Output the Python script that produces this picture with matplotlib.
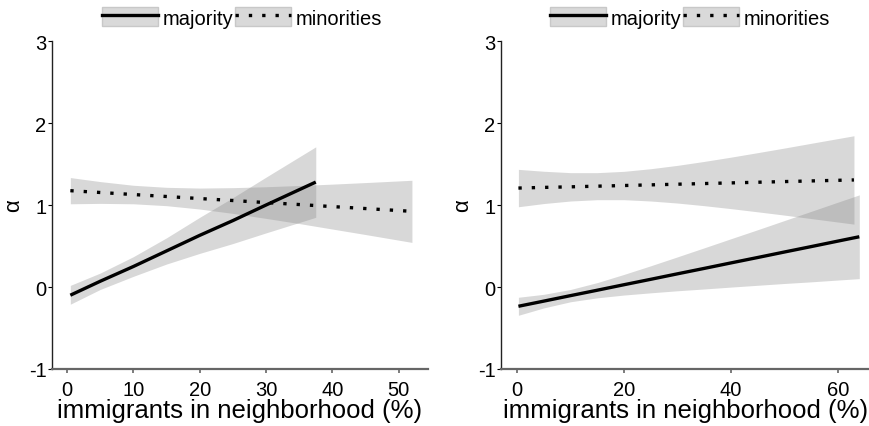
import matplotlib
matplotlib.use('Agg')
import matplotlib.pyplot as plt
from matplotlib.patches import Patch
from matplotlib.lines import Line2D
from matplotlib.legend_handler import HandlerTuple

plt.rcParams['font.family'] = ['Liberation Sans', 'DejaVu Sans']

# left panel
maj1_x = [0.5, 5, 10, 15, 20, 25, 30, 37.5]
maj1_mid = [-0.10, 0.07, 0.25, 0.44, 0.63, 0.81, 1.00, 1.28]
maj1_lo = [-0.21, -0.03, 0.13, 0.28, 0.41, 0.53, 0.66, 0.85]
maj1_hi = [0.02, 0.17, 0.37, 0.60, 0.85, 1.09, 1.34, 1.71]

min1_x = [0.5, 5, 10, 15, 20, 25, 30, 35, 40, 45, 52]
min1_mid = [1.175, 1.153, 1.128, 1.104, 1.079, 1.055, 1.030, 1.006, 0.981, 0.957, 0.923]
min1_lo = [1.015, 1.020, 1.015, 0.992, 0.951, 0.898, 0.837, 0.774, 0.707, 0.640, 0.544]
min1_hi = [1.335, 1.286, 1.241, 1.216, 1.207, 1.212, 1.223, 1.238, 1.255, 1.274, 1.302]

# right panel
maj2_x = [0.25, 5, 10, 15, 20, 25, 30, 35, 40, 45, 50, 55, 60, 64]
maj2_mid = [-0.235, -0.172, -0.105, -0.039, 0.028, 0.094, 0.161, 0.227, 0.294, 0.360, 0.427, 0.493, 0.560, 0.613]
maj2_lo = [-0.345, -0.255, -0.180, -0.132, -0.098, -0.071, -0.046, -0.024, -0.001, 0.021, 0.043, 0.063, 0.085, 0.102]
maj2_hi = [-0.125, -0.089, -0.030, 0.054, 0.154, 0.259, 0.368, 0.478, 0.589, 0.699, 0.811, 0.923, 1.035, 1.124]

min2_x = [0.25, 5, 10, 15, 20, 25, 30, 35, 40, 45, 50, 55, 63]
min2_mid = [1.207, 1.215, 1.222, 1.230, 1.238, 1.246, 1.254, 1.262, 1.270, 1.278, 1.286, 1.294, 1.306]
min2_lo = [0.979, 1.018, 1.049, 1.065, 1.065, 1.049, 1.024, 0.992, 0.956, 0.917, 0.877, 0.835, 0.767]
min2_hi = [1.435, 1.412, 1.395, 1.395, 1.411, 1.443, 1.484, 1.532, 1.584, 1.639, 1.695, 1.753, 1.845]

xticks1 = [0, 10, 20, 30, 40, 50]
xticks2 = [0, 20, 40, 60]
yticks = [-1, 0, 1, 2, 3]

fig = plt.figure(figsize=(8.7, 4.27), dpi=100)
ax1 = fig.add_axes([0.0598, 0.1335, 0.432, 0.768])
ax2 = fig.add_axes([0.5759, 0.1335, 0.4241, 0.768])

dotted = (0, (1, 3))
panels = [
    (ax1, maj1_x, maj1_mid, maj1_lo, maj1_hi, min1_x, min1_mid, min1_lo, min1_hi, xticks1, (-2.26, 54.4), 0.278),
    (ax2, maj2_x, maj2_mid, maj2_lo, maj2_hi, min2_x, min2_mid, min2_lo, min2_hi, xticks2, (-3.0, 66.0), 0.793),
]

for ax, mx, mm, ml, mh, nx, nm, nl, nh, xt, xl, legx in panels:
    ax.fill_between(mx, ml, mh, color='gray', alpha=0.3, lw=0)
    ax.fill_between(nx, nl, nh, color='gray', alpha=0.3, lw=0)
    ax.plot(mx, mm, color='black', lw=2.4, solid_capstyle='butt')
    ax.plot(nx, nm, color='black', lw=2.4, linestyle=dotted, dash_capstyle='butt')
    ax.set_xlim(*xl)
    ax.set_ylim(-1, 3)
    ax.set_xticks(xt)
    ax.set_yticks(yticks)
    ax.set_yticklabels([str(v) for v in yticks])
    ax.spines['top'].set_visible(False)
    ax.spines['right'].set_visible(False)
    ax.spines['left'].set_color('#222222')
    ax.spines['left'].set_linewidth(1.0)
    ax.spines['bottom'].set_color('#666666')
    ax.spines['bottom'].set_linewidth(1.6)
    ax.tick_params(axis='both', labelsize=14.5, length=3, colors='black')
    ax.tick_params(axis='y', pad=1)
    ax.tick_params(axis='x', color='#666666', width=1.2, pad=5)
    ax.set_xlabel('immigrants in neighborhood (%)', fontsize=18.5, labelpad=-1)
    ax.set_ylabel('α', fontsize=16, labelpad=3)

    band = Patch(facecolor='#d9d9d9', edgecolor='#c8c8c8')
    h_maj = (band, Line2D([], [], color='black', lw=2.4))
    h_min = (band, Line2D([], [], color='black', lw=2.4, linestyle=dotted))
    fig.legend([h_maj, h_min], ['majority', 'minorities'],
               handler_map={tuple: HandlerTuple(ndivide=1, pad=0)},
               loc='center', bbox_to_anchor=(legx, 0.957), ncol=2,
               frameon=False, fontsize=14.5, handlelength=2.8, handleheight=1.1,
               handletextpad=0.2, columnspacing=0.1, borderpad=0)

fig.savefig('out.png', dpi=100)
